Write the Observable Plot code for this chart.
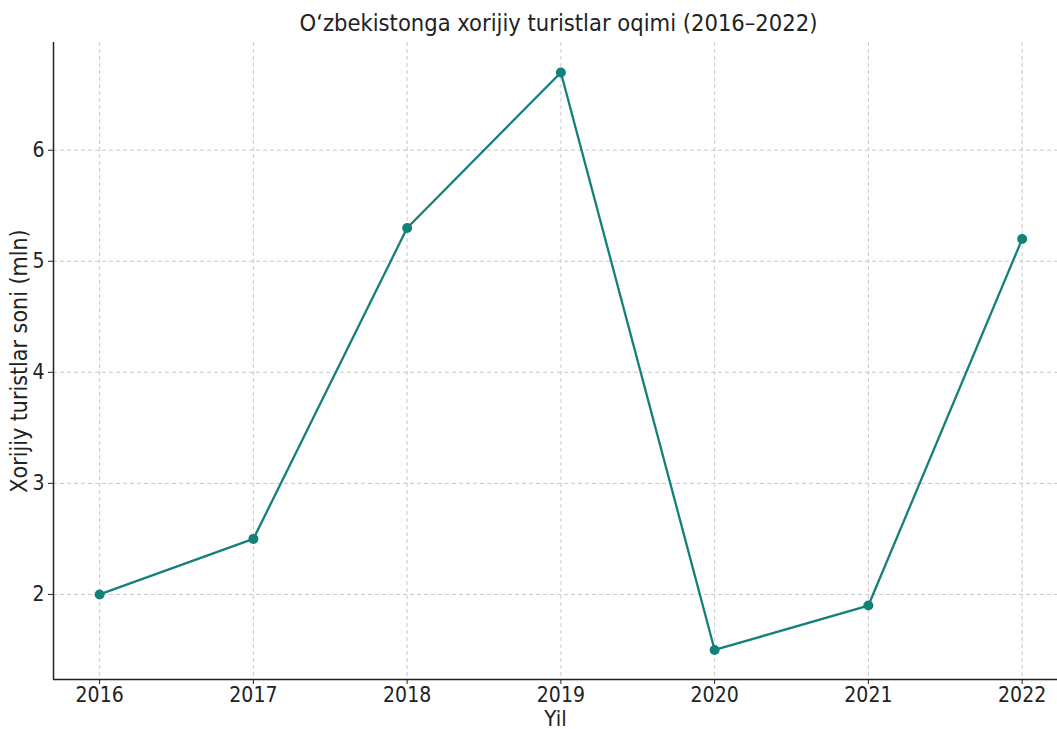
<!DOCTYPE html>
<html>
<head>
<meta charset="utf-8">
<script src="https://cdn.jsdelivr.net/npm/d3@7"></script>
<script src="https://cdn.jsdelivr.net/npm/@observablehq/plot@0.6"></script>
<style>
  body { margin: 0; background: #fff; }
  #title { height: 40px; line-height: 46px; text-align: center; font-family: "DejaVu Sans Condensed", "DejaVu Sans", sans-serif; font-size: 23.5px; color: #222; padding-left: 60px; }
</style>
</head>
<body>
<div id="title">O‘zbekistonga xorijiy turistlar oqimi (2016–2022)</div>
<div id="chart"></div>
<script>
const years = [2016, 2017, 2018, 2019, 2020, 2021, 2022];
const tourists = [2.0, 2.5, 5.3, 6.7, 1.5, 1.9, 5.2];
const yTicks = [2, 3, 4, 5, 6];
const xLabel = "Yil";
const yLabel = "Xorijiy turistlar soni (mln)";

const data = years.map((y, i) => ({year: y, value: tourists[i]}));
const color = "#138079";
const xDomain = [2015.7, 2022.23];
const yDomain = [1.234, 6.97];

const chart = Plot.plot({
  width: 1057,
  height: 689,
  marginTop: 2,
  marginBottom: 50,
  marginLeft: 53,
  marginRight: 0,
  style: {fontFamily: "'DejaVu Sans Condensed', 'DejaVu Sans', sans-serif", fontSize: "21px", color: "#222", background: "#fff"},
  x: {domain: xDomain, ticks: years, tickFormat: d => String(d)},
  y: {domain: yDomain, ticks: yTicks, tickFormat: d => String(d)},
  marks: [
    Plot.gridX(years, {stroke: "#bbb", strokeOpacity: 1, strokeDasharray: "4,3", strokeWidth: 0.8}),
    Plot.gridY(yTicks, {stroke: "#bbb", strokeOpacity: 1, strokeDasharray: "4,3", strokeWidth: 0.8}),
    Plot.ruleX([xDomain[0]], {stroke: "#222", strokeWidth: 1.5}),
    Plot.ruleY([yDomain[0]], {stroke: "#222", strokeWidth: 1.5}),
    Plot.axisX(years, {tickSize: 5, tickPadding: 3, label: null, stroke: "#222", fontSize: 21, tickFormat: d => String(d)}),
    Plot.axisY(yTicks, {tickSize: 5, tickPadding: 4, label: null, stroke: "#222", fontSize: 21, tickFormat: d => String(d)}),
    Plot.text([xLabel], {frameAnchor: "bottom", dy: 46, fontSize: 22, fill: "#222"}),
    Plot.text([yLabel], {frameAnchor: "left", textAnchor: "middle", rotate: -90, dx: -34, fontSize: 23, fill: "#222"}),
    Plot.line(data, {x: "year", y: "value", stroke: color, strokeWidth: 2.3}),
    Plot.dot(data, {x: "year", y: "value", fill: color, r: 5})
  ]
});
document.getElementById("chart").appendChild(chart);
</script>
</body>
</html>
